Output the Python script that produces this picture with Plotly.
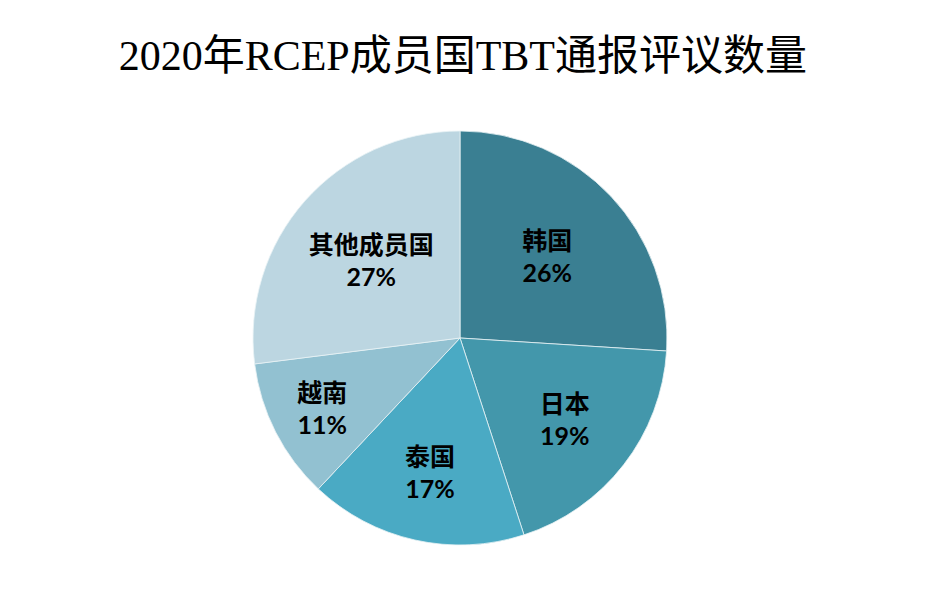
import plotly.graph_objects as go

# datos
paises = ["韩国", "日本", "泰国", "越南", "其他成员国"]
porcentajes = [26, 19, 17, 11, 27]
colores = ["#3a7f92", "#4397ab", "#4aaac4", "#92c1d1", "#bcd6e1"]

fig = go.Figure(data=go.Pie(
    labels=paises,
    values=porcentajes,
    sort=False,
    direction="clockwise",
    rotation=0,
    marker=dict(colors=colores, line=dict(color="#e8f2f5", width=0.8)),
    texttemplate="<b>%{label}</b><br><b>%{value}%</b>",
    textposition="inside",
    insidetextorientation="horizontal",
    textfont=dict(family="Lato, Noto Sans CJK SC", size=25, color="black"),
    showlegend=False,
    hoverinfo="label+percent",
    domain=dict(x=[0.2629, 0.7071], y=[0.0990, 0.7936]),
))

fig.update_layout(
    width=932, height=596,
    margin=dict(l=0, r=0, t=0, b=0),
    paper_bgcolor="white",
    plot_bgcolor="white",
    uniformtext=dict(minsize=25, mode="show"),
    title=dict(text="2020年RCEP成员国TBT通报评议数量",
               font=dict(family="Liberation Serif, Noto Sans CJK SC", size=42, color="black"),
               x=0.488, xanchor="center", y=0.92, yanchor="middle"),
)

fig.write_html("out.html")
